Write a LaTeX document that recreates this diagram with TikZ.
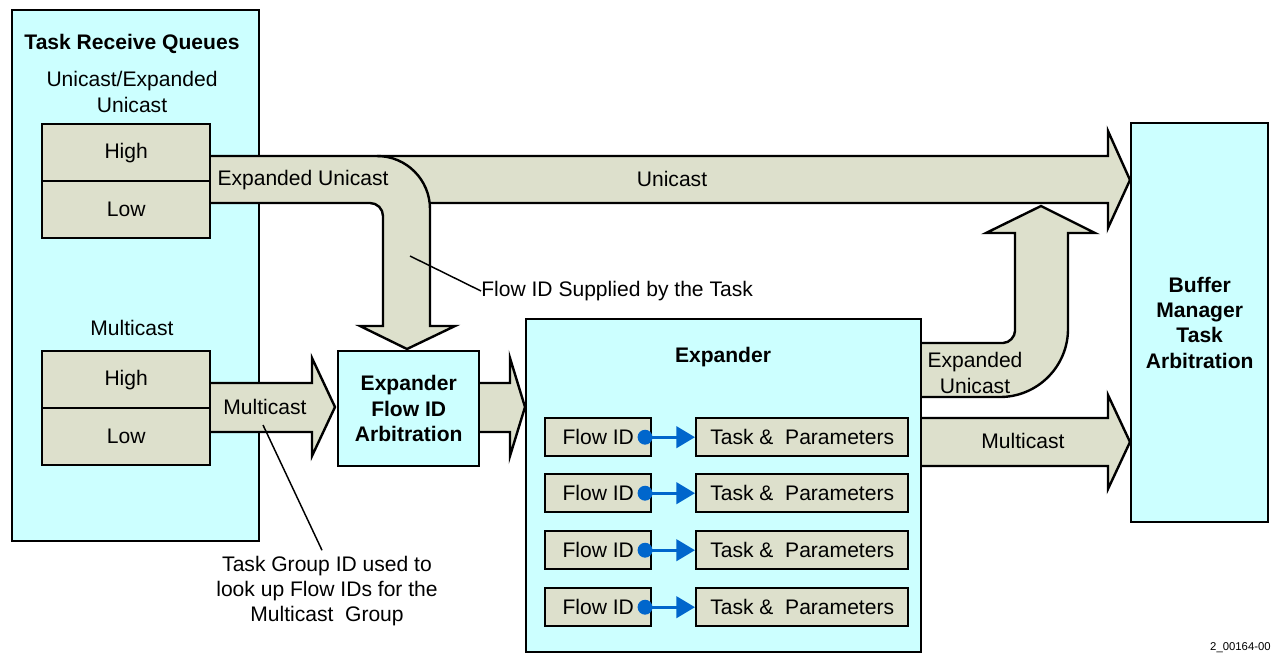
\documentclass[tikz,border=0pt]{standalone}
\usepackage{fontspec}
\setmainfont{Liberation Sans}
\usetikzlibrary{arrows.meta,calc}
\definecolor{panelcyan}{RGB}{204,255,255}
\definecolor{queuetan}{RGB}{221,224,204}
\definecolor{linkblue}{RGB}{0,102,204}
% rectangle node given by top-left corner, width and height in pixel units
\newcommand\pxbox[6]{\node[#1, anchor=north west, minimum width=#4*0.75pt, minimum height=#5*0.75pt] (#2) at #3 {#6};}
\begin{document}
\begin{tikzpicture}[x=0.75pt, y=-0.75pt, line join=miter,
  every node/.style={font=\fontsize{15.8}{19}\selectfont, inner sep=0pt},
  panel/.style={draw, line width=1.8pt, fill=panelcyan},
  cell/.style={draw, line width=1.8pt, fill=queuetan},
  bandedge/.style={draw, line width=1.8pt},
  hd/.style={font=\fontsize{15.8}{19}\selectfont\bfseries, align=center},
  txt/.style={align=center},
  callout/.style={draw, line width=1.1pt},
  link/.style={draw=linkblue, line width=2.4pt, -{Triangle[length=14pt,width=16pt]}},
  linkdot/.style={fill=linkblue}]
\useasboundingbox (0,0) rectangle (1272,654);

% receive queues panel
\pxbox{panel}{trq}{(11,9)}{247}{531}{}

% unicast band with expanded-unicast branch turning down
\fill[queuetan] (209,156) -- (1108,156) -- (1108,131) -- (1130,180) -- (1108,228) -- (1108,203)
  -- (430,203) -- (430,326) -- (455,326) -- (407,349) -- (360,326) -- (383,326) -- (383,216)
  .. controls (383,208.8) and (377.2,203) .. (370,203) -- (209,203) -- cycle;
\draw[bandedge] (209,156) -- (1108,156) -- (1108,131) -- (1130,180) -- (1108,228) -- (1108,203) -- (430,203);
\draw[bandedge] (377,156) .. controls (406.3,156) and (430,179.7) .. (430,209) -- (430,326) -- (455,326)
  -- (407,349) -- (360,326) -- (383,326) -- (383,216)
  .. controls (383,208.8) and (377.2,203) .. (370,203) -- (209,203);

% expanded unicast band rising from the expander
\fill[queuetan] (920,343) -- (1003,343) .. controls (1009.6,343) and (1015,336.4) .. (1015,331)
  -- (1015,233) -- (986,233) -- (1041,206) -- (1095,233) -- (1068,233) -- (1068,329)
  .. controls (1068,366.5) and (1037.5,397) .. (1000,397) -- (920,397) -- cycle;
\draw[bandedge] (920,343) -- (1003,343) .. controls (1009.6,343) and (1015,336.4) .. (1015,331)
  -- (1015,233) -- (986,233) -- (1041,206) -- (1095,233) -- (1068,233) -- (1068,329)
  .. controls (1068,366.5) and (1037.5,397) .. (1000,397) -- (920,397);

% multicast band to buffer manager
\fill[queuetan] (920,418) -- (1108,418) -- (1108,395) -- (1130,442) -- (1108,489) -- (1108,466) -- (920,466) -- cycle;
\draw[bandedge] (920,418) -- (1108,418) -- (1108,395) -- (1130,442) -- (1108,489) -- (1108,466) -- (920,466);

% multicast band from queues to arbitration
\fill[queuetan] (209,383) -- (312,383) -- (312,358) -- (335,407) -- (312,456) -- (312,432) -- (209,432) -- cycle;
\draw[bandedge] (209,383) -- (312,383) -- (312,358) -- (335,407) -- (312,456) -- (312,432) -- (209,432);

% band from arbitration to expander
\fill[queuetan] (478,383) -- (510,383) -- (510,358) -- (525,407) -- (510,456) -- (510,432) -- (478,432) -- cycle;
\draw[bandedge] (478,383) -- (510,383) -- (510,358) -- (525,407) -- (510,456) -- (510,432) -- (478,432);

% queue cells
\pxbox{cell}{uhigh}{(41,123)}{168}{57}{High}
\pxbox{cell}{ulow}{(41,180)}{168}{57}{Low}
\pxbox{cell}{mhigh}{(41,350)}{168}{57}{High}
\pxbox{cell}{mlow}{(41,407)}{168}{57}{Low}

% processing blocks
\pxbox{panel,hd}{arb}{(337,350)}{141}{115}{Expander\\Flow ID\\Arbitration}
\pxbox{panel}{exp}{(525,318)}{395}{333}{}
\pxbox{panel,hd}{bmta}{(1130,122)}{137}{399}{Buffer\\Manager\\Task\\Arbitration}

% expander table: each flow ID points to its task and parameters
\foreach \i/\y in {1/417,2/473,3/530,4/587}{
  \pxbox{cell}{fid\i}{(544,\y)}{106}{38}{Flow ID}
  \pxbox{cell}{tp\i}{(695,\y)}{212}{38}{Task \&\ \ Parameters}
  \coordinate (dot\i) at ([xshift=-5.5pt]fid\i.east);
  \draw[link] (dot\i) -- (tp\i.west);
  \fill[linkdot] (dot\i) circle[radius=5.6pt];
}

% titles and band labels
\node[hd] (trqtitle) at (132,44) {Task Receive Queues};
\node[txt] (ucq) at (132,92) {Unicast/Expanded\\Unicast};
\node (mcq) at (132,328) {Multicast};
\node[hd] (exptitle) at (723,357) {Expander};
\node (lblexpu) at (303,180) {Expanded Unicast};
\node (lbluni) at (672,179) {Unicast};
\node (lblmc1) at (265,407) {Multicast};
\node (lblmc2) at (1023,441) {Multicast};
\node[txt] (lblexpu2) at (975,373) {Expanded\\Unicast};

% callouts
\node[anchor=west] (fidnote) at (481,291) {Flow ID Supplied by the Task};
\coordinate (fidpt) at (410,256);
\draw[callout] (fidpt) -- (fidnote.west);
\node[txt] (grpnote) at (327,591) {Task Group ID used to\\look up Flow IDs for the\\Multicast\ \ Group};
\coordinate (mcpt) at (263,425);
\draw[callout] (mcpt) -- ([shift={(-3.75pt,4pt)}]grpnote.north);

\node[anchor=south east, font=\fontsize{8.5}{10}\selectfont] (figid) at (1271,653) {2\_00164-00};
\end{tikzpicture}
\end{document}
